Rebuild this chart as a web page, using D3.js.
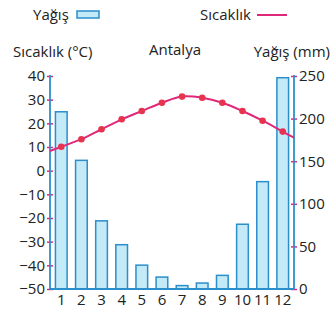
<!DOCTYPE html>
<html lang="tr">
<head>
<meta charset="UTF-8">
<title>Antalya</title>
<script src="https://d3js.org/d3.v7.min.js"></script>
<style>
  body { margin: 0; padding: 0; background: #ffffff; }
  svg { display: block; font-family: 'Open Sans', sans-serif; }
  .lbl { font-size: 15px; fill: #222; }
  .tick text { font-size: 15px; fill: #222; font-family: 'Open Sans', sans-serif; }
</style>
</head>
<body>
<svg width="336" height="313"></svg>
<script>
// veriler
var months = ["1","2","3","4","5","6","7","8","9","10","11","12"];
var rain = [208, 151, 80, 52, 28, 14, 4, 7, 16, 76, 126, 248];     // mm
var temp = [10.1, 13.3, 17.5, 21.7, 25.2, 28.7, 31.3, 30.8, 28.7, 25.2, 21.1, 16.5]; // °C
var tempTicks = [-50, -40, -30, -20, -10, 0, 10, 20, 30, 40];
var rainTicks = [0, 50, 100, 150, 200, 250];

var blue = "#2a8fcb", pink = "#e0287a", dot = "#e8334f", fill = "#c4e9f7";

var svg = d3.select("svg");
var mLeft = 50, mRight = 294, mTop = 76, mBottom = 289;

var x = d3.scaleBand().domain(months).range([mLeft + 1, mRight - 1])
    .paddingInner(0.42).paddingOuter(0.22);
var yT = d3.scaleLinear().domain([-50, 40]).range([mBottom, mTop]);
var yP = d3.scaleLinear().domain([0, 250]).range([mBottom, mTop]);

// bars
svg.selectAll(".bar").data(rain).enter().append("rect")
    .attr("x", function(d, i) { return x(months[i]); })
    .attr("y", function(d) { return yP(d); })
    .attr("width", x.bandwidth())
    .attr("height", function(d) { return yP(0) - yP(d); })
    .attr("fill", fill).attr("stroke", blue).attr("stroke-width", 1.5);

// axes
function styleAxis(g, dir) {
    g.select(".domain").remove();
    g.selectAll(".tick line").attr("x1", -3).attr("x2", 3).attr("stroke", pink).attr("stroke-width", 1.5);
    g.selectAll(".tick text").attr("x", dir * 5);
}
var gl = svg.append("g").attr("transform", "translate(" + mLeft + ",0)")
    .call(d3.axisLeft(yT).tickValues(tempTicks).tickFormat(d3.format("d")));
styleAxis(gl, -1);
var gr = svg.append("g").attr("transform", "translate(" + mRight + ",0)")
    .call(d3.axisRight(yP).tickValues(rainTicks));
styleAxis(gr, 1);

svg.append("line").attr("x1", mLeft).attr("x2", mLeft).attr("y1", mTop - 1).attr("y2", mBottom)
    .attr("stroke", blue).attr("stroke-width", 1.8);
svg.append("line").attr("x1", mRight).attr("x2", mRight).attr("y1", mTop - 1).attr("y2", mBottom)
    .attr("stroke", blue).attr("stroke-width", 1.8);

var gb = svg.append("g").attr("transform", "translate(0," + mBottom + ")")
    .call(d3.axisBottom(x).tickSize(0).tickPadding(5));
gb.select(".domain").remove();
svg.append("line").attr("x1", mLeft).attr("x2", mRight).attr("y1", mBottom).attr("y2", mBottom)
    .attr("stroke", blue).attr("stroke-width", 1.8);

// temperature line, extended to both axes
var cx = function(i) { return x(months[i]) + x.bandwidth() / 2; };
var pts = temp.map(function(t, i) { return [cx(i), yT(t)]; });
var n = pts.length;
function extend(a, b, xe) {
    var k = (b[1] - a[1]) / (b[0] - a[0]);
    return [xe, a[1] + k * (xe - a[0])];
}
var linePts = [extend(pts[0], pts[1], mLeft)].concat(pts, [extend(pts[n - 1], pts[n - 2], mRight)]);
svg.append("path").attr("d", d3.line().curve(d3.curveCatmullRom)(linePts))
    .attr("fill", "none").attr("stroke", pink).attr("stroke-width", 2);
svg.selectAll(".dot").data(pts).enter().append("circle")
    .attr("cx", function(d) { return d[0]; }).attr("cy", function(d) { return d[1]; })
    .attr("r", 3.3).attr("fill", dot);

// titles
svg.append("text").attr("class", "lbl").attr("x", 13).attr("y", 57).text("Sıcaklık (°C)");
svg.append("text").attr("class", "lbl").attr("x", 175).attr("y", 55).attr("text-anchor", "middle").text("Antalya");
svg.append("text").attr("class", "lbl").attr("x", 330).attr("y", 57).attr("text-anchor", "end").text("Yağış (mm)");

// legend
svg.append("text").attr("class", "lbl").attr("x", 33).attr("y", 20).text("Yağış");
svg.append("rect").attr("x", 77).attr("y", 11).attr("width", 22).attr("height", 7)
    .attr("fill", fill).attr("stroke", blue).attr("stroke-width", 1.5);
svg.append("text").attr("class", "lbl").attr("x", 200).attr("y", 20).text("Sıcaklık");
svg.append("line").attr("x1", 257).attr("x2", 287).attr("y1", 15).attr("y2", 15)
    .attr("stroke", pink).attr("stroke-width", 2);
</script>
</body>
</html>
